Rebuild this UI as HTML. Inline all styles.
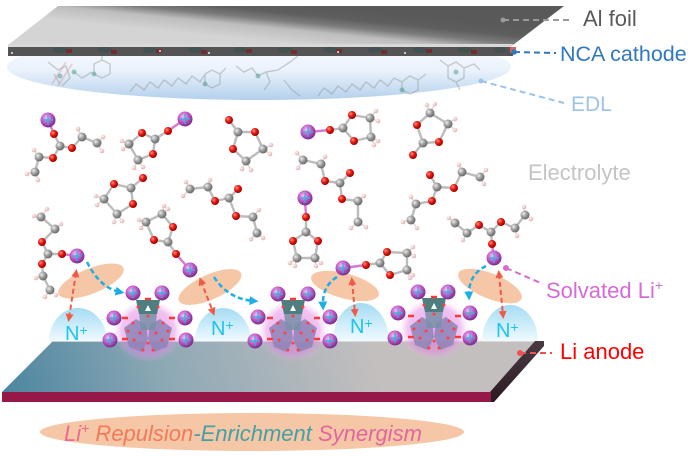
<!DOCTYPE html>
<html><head><meta charset="utf-8"><style>
html,body{margin:0;padding:0;background:#fff;}
svg{display:block;}
text{font-family:"Liberation Sans",Arial,sans-serif;}
</style></head><body>
<svg width="693" height="456" viewBox="0 0 693 456" xmlns="http://www.w3.org/2000/svg">
<defs>
<radialGradient id="gLi" cx="40%" cy="35%" r="65%"><stop offset="0" stop-color="#f6c2f6"/><stop offset="0.5" stop-color="#c65ccc"/><stop offset="1" stop-color="#7b2a8c"/></radialGradient>
<radialGradient id="gO" cx="35%" cy="35%" r="65%"><stop offset="0" stop-color="#ff9080"/><stop offset="0.5" stop-color="#e81a10"/><stop offset="1" stop-color="#a00000"/></radialGradient>
<radialGradient id="gC" cx="35%" cy="35%" r="65%"><stop offset="0" stop-color="#eeeeee"/><stop offset="0.5" stop-color="#a0a0a0"/><stop offset="1" stop-color="#6a6a6a"/></radialGradient>
<radialGradient id="gH" cx="35%" cy="35%" r="65%"><stop offset="0" stop-color="#fff4f4"/><stop offset="1" stop-color="#e0b0b0"/></radialGradient>
<radialGradient id="gGlow" cx="50%" cy="50%" r="50%"><stop offset="0" stop-color="#d45ed6" stop-opacity="0.55"/><stop offset="0.75" stop-color="#e487e6" stop-opacity="0.5"/><stop offset="1" stop-color="#f0b0f0" stop-opacity="0"/></radialGradient>
<linearGradient id="gEDL" x1="0" y1="0" x2="0" y2="1"><stop offset="0" stop-color="#ffffff"/><stop offset="0.55" stop-color="#eaf2fb"/><stop offset="1" stop-color="#b4d0ec"/></linearGradient>
<linearGradient id="gTop" gradientUnits="userSpaceOnUse" x1="313" y1="46" x2="317" y2="6"><stop offset="0" stop-color="#d4d4d4"/><stop offset="0.35" stop-color="#bdbdbd"/><stop offset="0.55" stop-color="#7c7c7c"/><stop offset="0.75" stop-color="#5e5e5e"/><stop offset="1" stop-color="#595959"/></linearGradient>
<linearGradient id="gAnode" gradientUnits="userSpaceOnUse" x1="0" y1="400" x2="360" y2="300"><stop offset="0" stop-color="#4a84a0"/><stop offset="0.45" stop-color="#8ea9b5"/><stop offset="1" stop-color="#c4bfbf"/></linearGradient>
<linearGradient id="gSide" x1="0" y1="0" x2="0" y2="1"><stop offset="0" stop-color="#4a3a42"/><stop offset="1" stop-color="#2a1a22"/></linearGradient>
<linearGradient id="gDome" x1="0" y1="0" x2="0" y2="1"><stop offset="0" stop-color="#a4dcf4"/><stop offset="1" stop-color="#f0faff"/></linearGradient>
<marker id="ar" viewBox="0 0 10 10" refX="5" refY="5" markerWidth="4" markerHeight="4" orient="auto-start-reverse"><path d="M0 0L10 5L0 10z" fill="#f05a46"/></marker>
<marker id="ab" viewBox="0 0 10 10" refX="5" refY="5" markerWidth="3.6" markerHeight="3.6" orient="auto"><path d="M0 0L10 5L0 10z" fill="#1caee6"/></marker>
<g id="Li"><circle r="7.5" fill="url(#gLi)"/><path d="M-5 0H5M0 -5V5" stroke="#2ab8d8" stroke-width="1.3"/></g>
<circle id="O" r="4" fill="url(#gO)"/>
<circle id="C" r="4.5" fill="url(#gC)"/>
<circle id="H" r="2.3" fill="url(#gH)"/>
<g id="clu">
<ellipse cx="0" cy="3" rx="35" ry="31" fill="url(#gGlow)"/>
<polygon points="-24,0 -12,-9 -2,-3 0,11 -6,24 -19,19" fill="#8d84b6" opacity="0.85"/>
<polygon points="24,0 12,-9 2,-3 0,11 6,24 19,19" fill="#8d84b6" opacity="0.85"/>
<polygon points="-9,-15 9,-15 7,2 -7,2" fill="#7890a8" opacity="0.85"/>
<polygon points="-12,-28 12,-28 9,-14 -9,-14" fill="#4d7f80"/>
<polygon points="-3,-17 3,-17 0,-23" fill="#fff"/>
<g fill="#ff4040"><circle cx="-10" cy="-21" r="1.5"/><circle cx="10" cy="-21" r="1.5"/><circle cx="0" cy="-12" r="1.5"/><circle cx="-15" cy="-5" r="1.5"/><circle cx="15" cy="-5" r="1.5"/><circle cx="-8" cy="5" r="1.5"/><circle cx="8" cy="5" r="1.5"/><circle cx="0" cy="15" r="1.5"/><circle cx="-14" cy="12" r="1.5"/><circle cx="14" cy="12" r="1.5"/><circle cx="-5" cy="22" r="1.5"/><circle cx="5" cy="22" r="1.5"/><circle cx="-20" cy="3" r="1.5"/><circle cx="20" cy="3" r="1.5"/></g>
<g stroke="#ff3838" stroke-width="2.5"><path d="M-3 -29H3"/><path d="M-26 -10H-20M21 -10H27M-26 11H-20M21 11H27"/></g>
</g>
</defs>

<!-- EDL -->
<ellipse cx="259" cy="67" rx="252" ry="33" fill="url(#gEDL)"/>
<g opacity="0.4" stroke="#8a8a8a" stroke-width="1.4" fill="none">
<path d="M48 62L58 70L66 66L70 78L62 86M54 74L60 84"/>
<path d="M74 72L82 78L92 72M94 64L102 60L110 64L110 74L102 78L94 74Z M102 60L102 52"/>
<path d="M130 92L136 84L144 90L150 82L158 88L164 80L172 86L178 78L186 84L192 76L200 82L205 74M205 74L212 70L220 74L220 84L212 88L205 84Z M220 74L226 68"/>
<path d="M236 66L244 72L252 68L258 76L266 72L270 82L264 90M266 72L278 70L290 62L298 56M284 80L292 90L300 96"/>
<path d="M318 96L324 88L332 94L338 86L346 92L352 84L360 90L366 82L374 88L380 80L388 86L394 78L402 82M402 82L410 76L418 80L418 90L410 94L402 90Z M418 80L426 74"/>
<path d="M440 60L448 66L456 62L464 68L464 78L456 82L448 78L448 66M464 68L474 64L480 70M456 82L460 90"/>
</g>
<g opacity="0.35" stroke="#e09090" stroke-width="2" fill="none"><path d="M52 84L66 62M58 86L72 64"/></g>
<g opacity="0.5"><circle cx="60" cy="76" r="2.5" fill="#4a9a8a"/><circle cx="74" cy="72" r="2.5" fill="#4a9a8a"/><circle cx="94" cy="74" r="2.5" fill="#4a9a8a"/><circle cx="205" cy="84" r="2.5" fill="#4a9a8a"/><circle cx="258" cy="76" r="2.5" fill="#4a9a8a"/><circle cx="402" cy="90" r="2.5" fill="#4a9a8a"/><circle cx="456" cy="72" r="2.5" fill="#4a9a8a"/></g>

<!-- Al foil / cathode -->
<polygon points="58,6 564,6 513,45 8,45" fill="url(#gTop)"/>
<polygon points="8,44 513,44 512,47 8,47" fill="#d8d8d8"/>
<rect x="8" y="47" width="505" height="9" fill="#545454"/>
<g fill="#35524f" opacity="0.6">
<ellipse cx="60" cy="50" rx="7" ry="3"/><ellipse cx="105" cy="50" rx="7" ry="3"/><ellipse cx="150" cy="50" rx="7" ry="3"/><ellipse cx="195" cy="50" rx="7" ry="3"/><ellipse cx="240" cy="50" rx="7" ry="3"/><ellipse cx="285" cy="50" rx="7" ry="3"/><ellipse cx="330" cy="50" rx="7" ry="3"/><ellipse cx="375" cy="50" rx="7" ry="3"/><ellipse cx="420" cy="50" rx="7" ry="3"/><ellipse cx="465" cy="50" rx="7" ry="3"/><ellipse cx="500" cy="50" rx="6" ry="3"/>
</g>
<g fill="#7a2424" opacity="0.8">
<rect x="66" y="49" width="6" height="4"/><rect x="111" y="50" width="6" height="4"/><rect x="156" y="49" width="6" height="4"/><rect x="201" y="50" width="6" height="4"/><rect x="246" y="49" width="6" height="4"/><rect x="291" y="50" width="6" height="4"/><rect x="336" y="49" width="6" height="4"/><rect x="381" y="50" width="6" height="4"/><rect x="426" y="49" width="6" height="4"/><rect x="471" y="50" width="6" height="4"/>
</g>
<g fill="#eee"><circle cx="12" cy="53" r="1"/><circle cx="160" cy="51" r="1"/><circle cx="209" cy="53" r="1"/><circle cx="405" cy="53" r="1"/><circle cx="338" cy="52" r="1"/></g>
<rect x="510" y="47" width="6" height="6" fill="#e06060"/>

<!-- Labels top -->
<circle cx="503" cy="20" r="2.5" fill="#9a9a9a"/>
<path d="M503 20H569" stroke="#9a9a9a" stroke-width="2" stroke-dasharray="6 4"/>
<text x="583" y="26" font-size="22" fill="#595959">Al foil</text>
<circle cx="514" cy="52" r="2.8" fill="#2f78c0"/>
<path d="M514 52L556 53" stroke="#2f78c0" stroke-width="2" stroke-dasharray="6 4"/>
<text x="560" y="61" font-size="21.5" fill="#2f78c0">NCA cathode</text>
<circle cx="481" cy="81" r="2.5" fill="#9cc3e8"/>
<path d="M481 81L564 103" stroke="#9cc3e8" stroke-width="2" stroke-dasharray="6 4"/>
<text x="571" y="111" font-size="21" fill="#9cc3e8">EDL</text>
<text x="528" y="180" font-size="22" fill="#c4c4c4">Electrolyte</text>

<!-- Electrolyte molecules: bonds -->
<g stroke="#bcbcbc" stroke-width="2.4" fill="none" stroke-linecap="round" stroke-linejoin="round">
<path d="M54 134L60 146M60 146L72 148M72 148L82 137M82 137L97 143M60 146L53 158M53 158L39 157M39 157L35 172"/>
<path d="M168 131L155 139L142 133L129 144L138 160L153 154L155 139"/>
<path d="M229 120L238 132L255 132L263 149L246 161L233 149L238 132"/>
<path d="M330 130L343 128L352 115L370 118L371 137L354 141L343 128"/>
<path d="M417 125L430 113L448 124L439 142L423 143L417 125M423 143L413 155"/>
<path d="M303 160L321 164L325 181L340 183L350 173M340 183L342 199L358 201L358 222"/>
<path d="M430 175L437 187L454 188L462 172L480 177M437 187L432 201L416 204L411 220"/>
<path d="M455 223L467 233L479 225L491 232L501 222L515 228L525 215M491 232L492 244"/>
<path d="M143 178L131 188L114 184L104 199L117 214L133 204L131 188"/>
<path d="M190 189L208 187L215 201L229 198L238 189M229 198L236 216L253 217L257 233"/>
<path d="M162 214L173 227L168 242L154 240L146 222L162 214M168 242L176 254"/>
<path d="M41 217L55 229L42 242L48 254L62 254M48 254L42 264L43 276L50 290"/>
<path d="M306 217L306 232L293 241L297 258L315 258L318 241L306 232"/>
<path d="M366 265L380 263L387 252L407 253L407 270L390 275L380 263"/>
</g>
<g stroke="#d47ad4" stroke-width="2.4" fill="none">
<path d="M48 120L54 134M185 119L168 131M308 132L330 130M492 244L494 258M176 254L190 270M62 254L77 256M305 198L306 217M343 268L366 265"/>
</g>
<g stroke="#e2d0d0" stroke-width="1.4" fill="none">
<path d="M82 137L78 129M97 143L103 137M97 143L102 151M39 157L34 150M35 172L27 174M35 172L38 180"/>
<path d="M129 144L122 141M129 144L123 149M138 160L134 168M138 160L143 167"/>
<path d="M263 149L271 145M263 149L270 154M246 161L242 169M246 161L251 170"/>
<path d="M370 118L376 111M370 118L378 121M371 137L378 141M371 137L374 145"/>
<path d="M430 113L427 105M430 113L435 104M448 124L455 119M448 124L455 130"/>
<path d="M303 160L297 153M303 160L298 168M321 164L325 157M358 201L364 196M358 222L351 228M358 222L366 227"/>
<path d="M462 172L459 165M480 177L486 170M480 177L484 184M416 204L411 197M411 220L403 222M411 220L417 228"/>
<path d="M455 223L449 218M467 233L463 240M525 215L531 219M525 215L524 207M515 228L517 236"/>
<path d="M104 199L96 196M104 199L97 205M117 214L114 222M117 214L122 221"/>
<path d="M190 189L183 196M190 189L186 182M208 187L210 180M253 217L259 210M257 233L263 238M257 233L251 239"/>
<path d="M162 214L164 206M162 214L168 209M146 222L139 220M146 222L141 228"/>
<path d="M41 217L47 209M41 217L34 216M55 229L61 224M43 276L36 278M50 290L56 295M50 290L45 297"/>
<path d="M297 258L290 263M297 258L295 266M315 258L321 263M315 258L316 266"/>
<path d="M407 253L413 247M407 253L414 256M407 270L413 275M407 270L410 278"/>
</g>
<!-- H atoms -->
<g>
<use href="#H" x="78" y="129"/><use href="#H" x="103" y="137"/><use href="#H" x="102" y="151"/><use href="#H" x="34" y="150"/><use href="#H" x="27" y="174"/><use href="#H" x="38" y="180"/>
<use href="#H" x="122" y="141"/><use href="#H" x="123" y="149"/><use href="#H" x="134" y="168"/><use href="#H" x="143" y="167"/>
<use href="#H" x="271" y="145"/><use href="#H" x="270" y="154"/><use href="#H" x="242" y="169"/><use href="#H" x="251" y="170"/>
<use href="#H" x="376" y="111"/><use href="#H" x="378" y="121"/><use href="#H" x="378" y="141"/><use href="#H" x="374" y="145"/>
<use href="#H" x="427" y="105"/><use href="#H" x="435" y="104"/><use href="#H" x="455" y="119"/><use href="#H" x="455" y="130"/>
<use href="#H" x="297" y="153"/><use href="#H" x="298" y="168"/><use href="#H" x="325" y="157"/><use href="#H" x="364" y="196"/><use href="#H" x="351" y="228"/><use href="#H" x="366" y="227"/>
<use href="#H" x="459" y="165"/><use href="#H" x="486" y="170"/><use href="#H" x="484" y="184"/><use href="#H" x="411" y="197"/><use href="#H" x="403" y="222"/><use href="#H" x="417" y="228"/>
<use href="#H" x="449" y="218"/><use href="#H" x="463" y="240"/><use href="#H" x="531" y="219"/><use href="#H" x="524" y="207"/><use href="#H" x="517" y="236"/>
<use href="#H" x="96" y="196"/><use href="#H" x="97" y="205"/><use href="#H" x="114" y="222"/><use href="#H" x="122" y="221"/>
<use href="#H" x="183" y="196"/><use href="#H" x="186" y="182"/><use href="#H" x="210" y="180"/><use href="#H" x="259" y="210"/><use href="#H" x="263" y="238"/><use href="#H" x="251" y="239"/>
<use href="#H" x="164" y="206"/><use href="#H" x="168" y="209"/><use href="#H" x="139" y="220"/><use href="#H" x="141" y="228"/>
<use href="#H" x="47" y="209"/><use href="#H" x="34" y="216"/><use href="#H" x="61" y="224"/><use href="#H" x="36" y="278"/><use href="#H" x="56" y="295"/><use href="#H" x="45" y="297"/>
<use href="#H" x="290" y="263"/><use href="#H" x="295" y="266"/><use href="#H" x="321" y="263"/><use href="#H" x="316" y="266"/>
<use href="#H" x="413" y="247"/><use href="#H" x="414" y="256"/><use href="#H" x="413" y="275"/><use href="#H" x="410" y="278"/>
</g>
<!-- C atoms -->
<g>
<use href="#C" x="60" y="146"/><use href="#C" x="82" y="137"/><use href="#C" x="97" y="143"/><use href="#C" x="39" y="157"/><use href="#C" x="35" y="172"/>
<use href="#C" x="155" y="139"/><use href="#C" x="129" y="144"/><use href="#C" x="138" y="160"/>
<use href="#C" x="238" y="132"/><use href="#C" x="263" y="149"/><use href="#C" x="246" y="161"/>
<use href="#C" x="343" y="128"/><use href="#C" x="370" y="118"/><use href="#C" x="371" y="137"/>
<use href="#C" x="430" y="113"/><use href="#C" x="448" y="124"/><use href="#C" x="423" y="143"/>
<use href="#C" x="303" y="160"/><use href="#C" x="321" y="164"/><use href="#C" x="340" y="183"/><use href="#C" x="358" y="201"/><use href="#C" x="358" y="222"/>
<use href="#C" x="437" y="187"/><use href="#C" x="462" y="172"/><use href="#C" x="480" y="177"/><use href="#C" x="416" y="204"/><use href="#C" x="411" y="220"/>
<use href="#C" x="455" y="223"/><use href="#C" x="467" y="233"/><use href="#C" x="491" y="232"/><use href="#C" x="515" y="228"/><use href="#C" x="525" y="215"/>
<use href="#C" x="131" y="188"/><use href="#C" x="104" y="199"/><use href="#C" x="117" y="214"/>
<use href="#C" x="190" y="189"/><use href="#C" x="208" y="187"/><use href="#C" x="229" y="198"/><use href="#C" x="253" y="217"/><use href="#C" x="257" y="233"/>
<use href="#C" x="162" y="214"/><use href="#C" x="168" y="242"/><use href="#C" x="146" y="222"/>
<use href="#C" x="41" y="217"/><use href="#C" x="55" y="229"/><use href="#C" x="48" y="254"/><use href="#C" x="43" y="276"/><use href="#C" x="50" y="290"/>
<use href="#C" x="306" y="232"/><use href="#C" x="297" y="258"/><use href="#C" x="315" y="258"/>
<use href="#C" x="380" y="263"/><use href="#C" x="407" y="253"/><use href="#C" x="407" y="270"/>
</g>
<!-- O atoms -->
<g>
<use href="#O" x="54" y="134"/><use href="#O" x="72" y="148"/><use href="#O" x="53" y="158"/>
<use href="#O" x="168" y="131"/><use href="#O" x="142" y="133"/><use href="#O" x="153" y="154"/>
<use href="#O" x="229" y="120"/><use href="#O" x="255" y="132"/><use href="#O" x="233" y="149"/>
<use href="#O" x="330" y="130"/><use href="#O" x="352" y="115"/><use href="#O" x="354" y="141"/>
<use href="#O" x="417" y="125"/><use href="#O" x="439" y="142"/><use href="#O" x="413" y="155"/>
<use href="#O" x="325" y="181"/><use href="#O" x="350" y="173"/><use href="#O" x="342" y="199"/>
<use href="#O" x="430" y="175"/><use href="#O" x="454" y="188"/><use href="#O" x="432" y="201"/>
<use href="#O" x="479" y="225"/><use href="#O" x="501" y="222"/><use href="#O" x="492" y="244"/>
<use href="#O" x="143" y="178"/><use href="#O" x="114" y="184"/><use href="#O" x="133" y="204"/>
<use href="#O" x="215" y="201"/><use href="#O" x="238" y="189"/><use href="#O" x="236" y="216"/>
<use href="#O" x="173" y="227"/><use href="#O" x="154" y="240"/><use href="#O" x="176" y="254"/>
<use href="#O" x="42" y="242"/><use href="#O" x="62" y="254"/><use href="#O" x="42" y="264"/>
<use href="#O" x="306" y="217"/><use href="#O" x="293" y="241"/><use href="#O" x="318" y="241"/>
<use href="#O" x="366" y="265"/><use href="#O" x="387" y="252"/><use href="#O" x="390" y="275"/>
</g>
<!-- solvated Li -->
<g>
<use href="#Li" x="48" y="120"/><use href="#Li" x="185" y="119"/><use href="#Li" x="308" y="132"/><use href="#Li" x="305" y="198"/>
</g>

<!-- Anode -->
<polygon points="53,341 536,341 490,392 2,392" fill="url(#gAnode)"/>
<path d="M53 341H536" stroke="#e4e4e4" stroke-width="1.5"/>
<polygon points="535,341 544,341 544,346 494,402 490,402 490,392" fill="url(#gSide)"/>
<rect x="2" y="392" width="489" height="10" fill="#951848"/>

<!-- N+ domes -->
<g fill="url(#gDome)">
<path d="M49 341A29 33 0 0 1 107 341Z"/>
<path d="M195 341A28 33 0 0 1 251 341Z"/>
<path d="M333 341A28 38 0 0 1 389 341Z"/>
<path d="M482 341A28 36 0 0 1 538 341Z"/>
</g>
<g font-size="20" fill="#1ec4ef">
<text x="65" y="340">N<tspan font-size="14" dy="-5">+</tspan></text>
<text x="211" y="335">N<tspan font-size="14" dy="-5">+</tspan></text>
<text x="350" y="333">N<tspan font-size="14" dy="-5">+</tspan></text>
<text x="496" y="337">N<tspan font-size="14" dy="-5">+</tspan></text>
</g>

<!-- Anion clusters -->
<use href="#clu" x="148" y="328"/>
<use href="#clu" x="293" y="328"/>
<use href="#clu" x="434" y="326"/>

<!-- orange ellipses -->
<g fill="#f5c3a0" opacity="0.92">
<ellipse cx="91" cy="281" rx="35" ry="12.5" transform="rotate(-22 91 281)"/>
<ellipse cx="210" cy="287" rx="34" ry="12.5" transform="rotate(-24 210 287)"/>
<ellipse cx="345" cy="286" rx="35" ry="12.5" transform="rotate(15 345 286)"/>
<ellipse cx="490" cy="286" rx="34" ry="12.5" transform="rotate(22 490 286)"/>
</g>

<!-- red arrows -->
<g stroke="#f05a46" stroke-width="2" stroke-dasharray="5 3" fill="none" marker-start="url(#ar)" marker-end="url(#ar)">
<path d="M76 273L69 318"/>
<path d="M201 281L213 312"/>
<path d="M352 281L355 313"/>
<path d="M499 274L503 315"/>
</g>
<!-- blue arrows -->
<g stroke="#1caee6" stroke-width="2.5" stroke-dasharray="5 3" fill="none" marker-end="url(#ab)">
<path d="M87 262Q100 288 120 292"/>
<path d="M214 277Q228 299 254 301"/>
<path d="M337 277Q322 286 323 306"/>
<path d="M486 266Q468 275 469 296"/>
</g>

<!-- Li near ellipses -->
<use href="#Li" x="77" y="256"/><use href="#Li" x="190" y="270"/><use href="#Li" x="343" y="268"/><use href="#Li" x="494" y="258"/>
<!-- cluster Li -->
<g>
<use href="#Li" x="133" y="293"/><use href="#Li" x="162" y="293"/><use href="#Li" x="114" y="318"/><use href="#Li" x="185" y="318"/><use href="#Li" x="110" y="340"/><use href="#Li" x="186" y="340"/>
<use href="#Li" x="278" y="294"/><use href="#Li" x="308" y="294"/><use href="#Li" x="258" y="317"/><use href="#Li" x="330" y="317"/><use href="#Li" x="255" y="341"/><use href="#Li" x="330" y="341"/>
<use href="#Li" x="418" y="292"/><use href="#Li" x="448" y="292"/><use href="#Li" x="398" y="313"/><use href="#Li" x="470" y="313"/><use href="#Li" x="395" y="338"/><use href="#Li" x="470" y="338"/>
</g>

<!-- Solvated label -->
<circle cx="506" cy="268" r="3" fill="#d86ad8"/>
<path d="M506 268L543 284" stroke="#d86ad8" stroke-width="2" stroke-dasharray="6 4"/>
<text x="546" y="298" font-size="22" fill="#d66bd8">Solvated Li<tspan font-size="14" dy="-8">+</tspan></text>
<!-- Li anode label -->
<circle cx="520" cy="353" r="3" fill="#f05050"/>
<path d="M520 353H552" stroke="#f05050" stroke-width="2" stroke-dasharray="6 4"/>
<text x="560" y="359" font-size="22" fill="#ff0000">Li anode</text>

<!-- bottom -->
<ellipse cx="252" cy="432" rx="212" ry="19" fill="#f6c7a6"/>
<text x="64" y="441" font-size="22" font-style="italic"><tspan fill="#ec6a90">Li</tspan><tspan fill="#ec6a90" font-size="14" dy="-8">+</tspan><tspan fill="#f27a5a" dy="8"> Repulsion</tspan><tspan fill="#43a0a4">-Enrichment</tspan><tspan fill="#e2669e"> Synergism</tspan></text>
</svg>
</body></html>
